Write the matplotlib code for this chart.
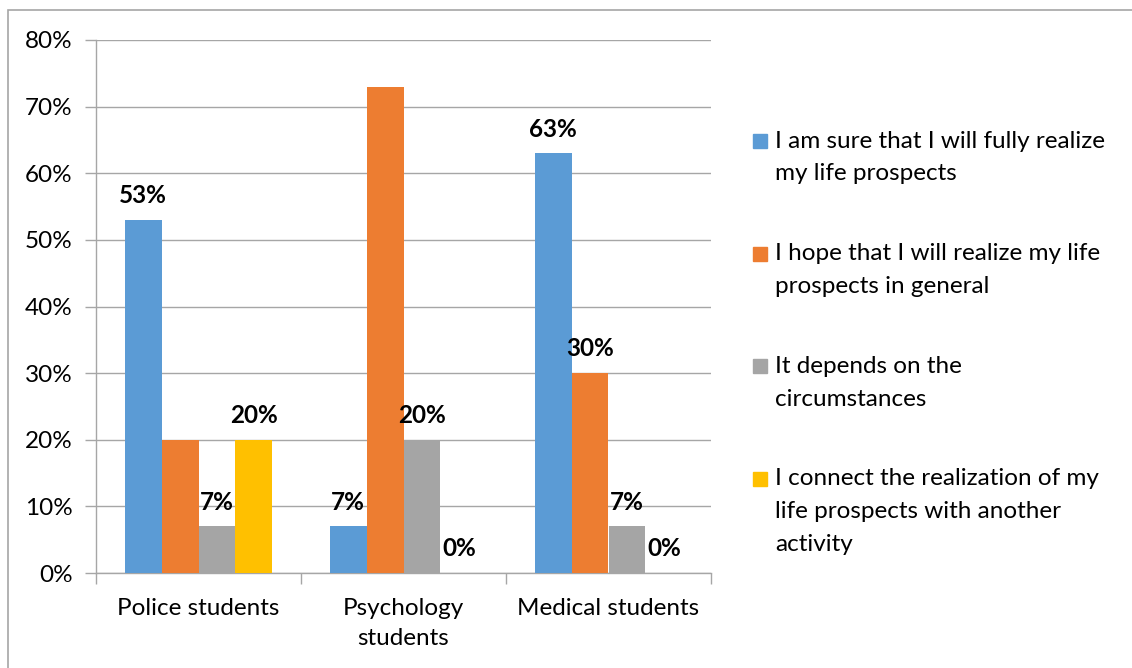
import matplotlib
matplotlib.use('Agg')
import matplotlib.pyplot as plt
import numpy as np
from matplotlib.patches import Rectangle

plt.rcParams['font.family'] = ['Lato', 'DejaVu Sans']

groups = ['Police students', 'Psychology\nstudents', 'Medical students']
series = ['I am sure that I will fully realize\nmy life prospects',
          'I hope that I will realize my life\nprospects in general',
          'It depends on the\ncircumstances',
          'I connect the realization of my\nlife prospects with another\nactivity']
sure = [53, 7, 63]
hope = [20, 73, 30]
depends = [7, 20, 7]
another = [20, 0, 0]
# which bars carry a value label in the original
sure_lbl = [True, True, True]
hope_lbl = [False, False, True]
depends_lbl = [True, True, True]
another_lbl = [True, True, True]

colors = ['#5B9BD5', '#ED7D31', '#A5A5A5', '#FFC000']
grid_c = '#a6a6a6'
fs = 17.5

fig = plt.figure(figsize=(11.32, 6.68), dpi=100)
ax = fig.add_axes([96/1132, 1-573/668, (711-96)/1132, (573-40)/668])

x = np.arange(len(groups))
w = 0.18
data = [sure, hope, depends, another]
lbls = [sure_lbl, hope_lbl, depends_lbl, another_lbl]
for i, (vals, show) in enumerate(zip(data, lbls)):
    pos = x - 1.5*w + i*w
    ax.bar(pos, vals, w, color=colors[i], zorder=3)
    for p, v, s in zip(pos, vals, show):
        if s:
            ax.annotate(f'{v}%', (p, v), xytext=(0, 12), textcoords='offset points',
                        ha='center', va='baseline', fontsize=fs, fontweight='bold')

ax.set_xlim(-0.5, 2.5)
ax.set_ylim(0, 80)
ax.set_yticks(np.arange(0, 81, 10))
ax.set_yticklabels([f'{t}%' for t in range(0, 81, 10)], fontsize=fs)
ax.yaxis.grid(True, color=grid_c, linewidth=1, zorder=0)
ax.set_xticks([-0.5, 0.5, 1.5, 2.5])
ax.set_xticklabels([])
ax.set_xticks(x, minor=True)
ax.set_xticklabels(groups, minor=True, fontsize=fs, linespacing=1.55)
ax.tick_params(axis='x', which='minor', length=0, pad=18)
ax.tick_params(axis='x', which='major', length=8, color=grid_c, width=1)
ax.tick_params(axis='y', length=8, color=grid_c, width=1, pad=9)
for sp in ['top', 'right']:
    ax.spines[sp].set_visible(False)
for sp in ['left', 'bottom']:
    ax.spines[sp].set_color(grid_c)
    ax.spines[sp].set_linewidth(1)

# legend drawn by hand so the square sits on the first text line
for i, lab in enumerate(series):
    ytop = 141 + i*112.5
    fig.patches.append(Rectangle((753/1132, 1-(ytop+7)/668), 14/1132, 14/668,
                                 transform=fig.transFigure, color=colors[i]))
    for j, line in enumerate(lab.split('\n')):
        fig.text(775/1132, 1-(ytop+j*33)/668, line, fontsize=fs, va='center', ha='left')

# outer chart frame
fig.patches.append(Rectangle((7.5/1132, -0.1), 1.2, 1.1-10.5/668, transform=fig.transFigure,
                             fill=False, edgecolor='#a6a6a6', linewidth=1.2))

fig.savefig('out.png', dpi=100)
